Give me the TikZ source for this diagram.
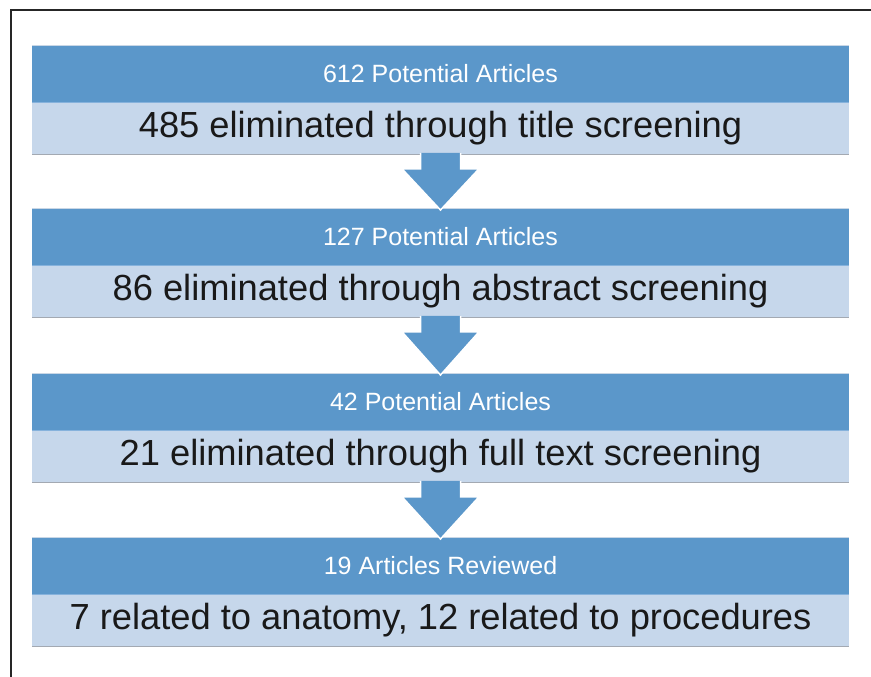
\documentclass[tikz,border=0pt]{standalone}
\usepackage{fontspec}
\setmainfont{Liberation Sans}
\usetikzlibrary{calc}
\definecolor{hdrblue}{HTML}{5B97CA}
\definecolor{bodyblue}{HTML}{C6D7EB}
\definecolor{sepblue}{HTML}{86B2DC}
\definecolor{shadowgray}{HTML}{A3A9B2}
\definecolor{toppale}{HTML}{C9D7E6}
\definecolor{framegray}{HTML}{262626}
\begin{document}
\begin{tikzpicture}[x=1pt,y=-1pt,
  hdr/.style={fill=hdrblue,minimum width=817pt,minimum height=57pt,inner sep=0pt,
    anchor=north,text=white,font=\fontsize{25}{30}\selectfont},
  bodybox/.style={fill=bodyblue,minimum width=817pt,minimum height=51pt,inner sep=0pt,
    anchor=north,text=black!90,font=\fontsize{36.3}{40}\selectfont},
  arrowshape/.style={fill=hdrblue,draw=white,line width=1.5pt,line join=miter}]
\useasboundingbox (0,0) rectangle (871,677);
\begin{scope}
\clip (0,0) rectangle (871,677);
\draw[framegray,line width=2.2pt] (11,10) rectangle (900,700);
\end{scope}
% boxes
\foreach \i/\top/\htext/\btext in {
  1/45/612 Potential Articles/485 eliminated through title screening,
  2/208/127 Potential Articles/86 eliminated through abstract screening,
  3/373/42 Potential Articles/21 eliminated through full text screening,
  4/537/19 Articles Reviewed/{7 related to anatomy, 12 related to procedures}}{
  \node[hdr] (h\i) at (440.5,\top) {\htext};
  \node[bodybox] (t\i) at (h\i.south) {\btext};
  \draw[sepblue,line width=1pt] (h\i.south west) -- (h\i.south east);
  \draw[toppale,line width=1pt] ($(h\i.north west)+(0,0.5)$) -- ($(h\i.north east)+(0,0.5)$);
  \draw[shadowgray,line width=1.2pt] ($(t\i.south west)+(0,0.6)$) -- ($(t\i.south east)+(0,0.6)$);
}
% arrows
\foreach \a/\b in {1/2,2/3,3/4}{
  \filldraw[arrowshape] ($(t\a.south)+(-20,-1)$) -- ($(t\a.south)+(-20,15)$)
    -- ($(t\a.south)+(-38.5,15)$) -- ($(h\b.north)+(0,2)$)
    -- ($(t\a.south)+(38.5,15)$) -- ($(t\a.south)+(20,15)$)
    -- ($(t\a.south)+(20,-1)$);
}
\end{tikzpicture}
\end{document}
